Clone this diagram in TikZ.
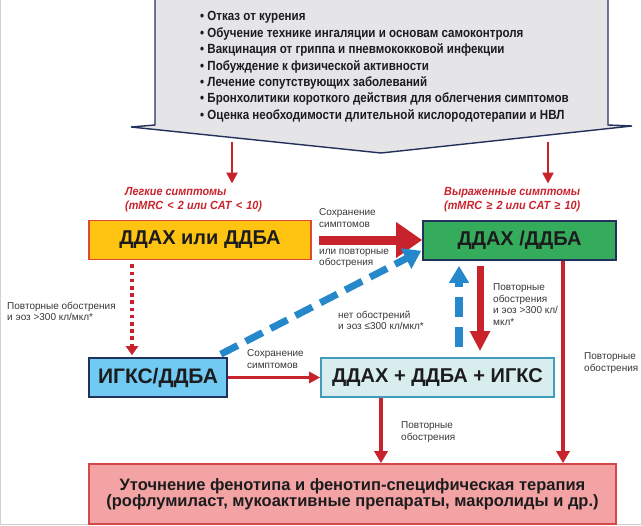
\documentclass[tikz,border=0pt]{standalone}
\usepackage{fontspec}
\setmainfont{Liberation Sans}
\newfontface\condb[FakeStretch=0.87]{Liberation Sans Bold}
\newfontface\condbi[FakeStretch=0.92]{Liberation Sans Bold Italic}
\usetikzlibrary{arrows.meta,calc}
\definecolor{redA}{RGB}{200,34,44}
\definecolor{yellowF}{RGB}{255,196,18}
\definecolor{yellowD}{RGB}{222,72,44}
\definecolor{greenF}{RGB}{52,172,92}
\definecolor{navy}{RGB}{34,48,92}
\definecolor{blueF}{RGB}{112,202,242}
\definecolor{cyanF}{RGB}{216,238,238}
\definecolor{cyanD}{RGB}{64,156,186}
\definecolor{pinkF}{RGB}{243,163,163}
\definecolor{pinkD}{RGB}{214,72,72}
\definecolor{blueDash}{RGB}{36,136,202}
\definecolor{grayF}{RGB}{229,229,231}
\definecolor{lbl}{RGB}{55,55,60}
\definecolor{titletext}{RGB}{28,28,30}
\newcommand{\opsp}[1]{\ \hspace{1.2pt}#1\hspace{1.2pt}\ }
\tikzset{
  boxstyle/.style={draw, line width=1.6pt, inner sep=0pt, minimum height=39pt,
    text=titletext, font=\fontsize{20}{22}\selectfont\bfseries},
  lblstyle/.style={anchor=north west, inner sep=0pt, align=left, text=lbl,
    font=\fontsize{10}{11.7}\selectfont},
  sympt/.style={anchor=north west, inner sep=0pt, align=left, text=redA,
    font=\fontsize{11.8}{14}\condbi},
  redthin/.style={draw=redA, line width=3pt, -{Triangle[width=11pt,length=11pt]}},
}
\begin{document}
\begin{tikzpicture}[x=1pt,y=-1pt]
\useasboundingbox (0,0) rectangle (642,525);
% faint frame
\draw[black!18, line width=0.8pt] (0.6,0) -- (0.6,524) -- (641,524) -- (641,0);
% big grey arrow
\path[fill=grayF, draw=navy, line width=1.4pt]
  (155,-3) -- (155,125) -- (131,127) -- (381,153) -- (632,126) -- (608,125) -- (608,-3);
\node[anchor=north west, inner sep=0pt, align=left, text=titletext,
  font=\fontsize{13.3}{16.35}\condb] (list) at (200,11.5)
  {• Отказ от курения\\
   • Обучение технике ингаляции и основам самоконтроля\\
   • Вакцинация от гриппа и пневмококковой инфекции\\
   • Побуждение к физической активности\\
   • Лечение сопутствующих заболеваний\\
   • Бронхолитики короткого действия для облегчения симптомов\\
   • Оценка необходимости длительной кислородотерапии и НВЛ};
\coordinate (gl) at (232,142);
\coordinate (gr) at (548,142);
% symptom headers
\node[sympt] (mild) at (125,187.5) {Легкие симптомы\\(mMRC\opsp{<}2 или CAT\opsp{<}10)};
\node[sympt] (sev) at (444,187.5) {Выраженные симптомы\\(mMRC\opsp{≥}2 или CAT\opsp{≥}10)};
\draw[redthin, line width=2.6pt] (gl) -- ([yshift=4pt]gl |- mild.north) ;
\draw[redthin, line width=2.6pt] (gr) -- ([yshift=4pt]gr |- sev.north);
% boxes
\node[boxstyle, fill=yellowF, draw=yellowD, minimum width=222pt] (yel) at (200,240) {ДДАХ или ДДБА};
\node[boxstyle, fill=greenF, draw=navy, minimum width=193pt] (grn) at (519.5,240.5) {ДДАХ /ДДБА};
\node[boxstyle, fill=blueF, draw=navy, minimum width=138pt, font=\fontsize{21}{22}\selectfont\bfseries] (blu) at (158,377.5) {ИГКС/ДДБА};
\node[boxstyle, fill=cyanF, draw=cyanD, minimum width=233pt] (cya) at (437.5,377.5) {ДДАХ + ДДБА + ИГКС};
\node[boxstyle, fill=pinkF, draw=pinkD, minimum width=527pt, minimum height=60pt, align=center,
  font=\fontsize{16.5}{16.5}\selectfont\bfseries] (pnk) at (352.5,494)
  {Уточнение фенотипа и фенотип-специфическая терапия\\(рофлумиласт, мукоактивные препараты, макролиды и др.)};
% big red arrow yellow -> green
\draw[redA, line width=9pt, shorten <=7pt, -{Triangle[width=34pt,length=26pt]}] (yel.east) -- (yel.east -| grn.west);
\node[lblstyle] (l1) at (319,208.5) {Сохранение\\симптомов};
\node[lblstyle] (l2) at (319,248.5) {или повторные\\обострения};
% dotted red arrow yellow -> blue
\draw[redA, line width=3.6pt, dash pattern=on 3.6pt off 3.6pt, shorten <=4pt, shorten >=2pt,
  -{Triangle[width=12pt,length=9pt]}] ([xshift=-68pt]yel.south) -- ([xshift=-68pt]yel.south |- blu.north);
\node[lblstyle] (l3) at (7,301.5) {Повторные обострения\\и эоз >300 кл/мкл*};
% blue dashed diagonal blue -> green
\draw[blueDash, line width=7pt, dash pattern=on 19pt off 9pt,
  -{Triangle[width=22pt,length=17pt]}] ([xshift=-7pt,yshift=3pt]blu.north east) -- ([xshift=-1pt,yshift=10pt]grn.south west);
% red thin arrow blue -> cyan
\draw[redthin] (blu.east) -- (cya.west);
\node[lblstyle] (l4) at (247,349.5) {Сохранение\\симптомов};
\node[lblstyle] (l5) at (338,310.5) {нет обострений\\и эоз ≤300 кл/мкл*};
% blue dashed up cyan -> green
\draw[blueDash, line width=7.5pt, dash pattern=on 20pt off 10pt, shorten <=10pt, shorten >=5pt,
  -{Triangle[width=19pt,length=17pt]}] ([xshift=21.5pt]cya.north) -- ([xshift=21.5pt]cya.north |- grn.south);
% red down green -> cyan
\draw[redA, line width=7pt, shorten <=5pt, shorten >=6pt, -{Triangle[width=19pt,length=20pt]}]
  ([xshift=-39.5pt]grn.south) -- ([xshift=-39.5pt]grn.south |- cya.north);
\node[lblstyle] (l6) at (493,283.5) {Повторные\\обострения\\и эоз >300 кл/\\мкл*};
% red right line green -> pink
\draw[redthin, line width=3.6pt, -{Triangle[width=13pt,length=12pt]}] ([xshift=43.5pt]grn.south) -- ([xshift=43.5pt]grn.south |- pnk.north);
\node[lblstyle] (l7) at (584,352.5) {Повторные\\обострения};
% red cyan -> pink
\draw[redthin, line width=3.6pt, -{Triangle[width=13pt,length=12pt]}] ([xshift=-56.5pt]cya.south) -- ([xshift=-56.5pt]cya.south |- pnk.north);
\node[lblstyle] (l8) at (401,421.5) {Повторные\\обострения};
\end{tikzpicture}
\end{document}
